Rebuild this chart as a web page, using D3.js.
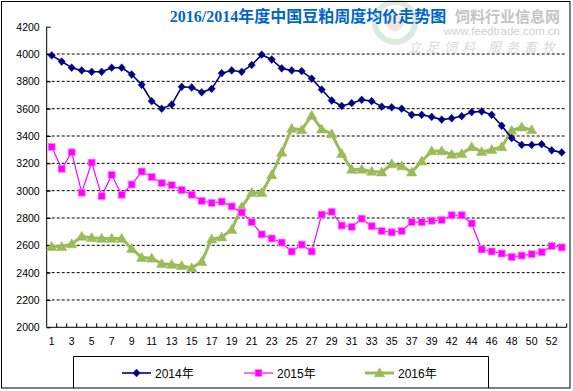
<!DOCTYPE html>
<html><head><meta charset="utf-8">
<script src="https://cdn.jsdelivr.net/npm/d3@7"></script>
<style>
body{margin:0;background:#fff;}
svg{display:block;}
</style></head><body>
<svg id="chart" width="573" height="391"></svg>
<script>
// ---- data ----
const weeks = [1,2,3,4,5,6,7,8,9,10,11,12,13,14,15,16,17,18,19,20,21,22,23,24,25,26,27,28,29,30,31,32,33,34,35,36,37,38,39,40,42,43,44,45,46,47,48,49,50,51,52,53];
const s2014 = [3990,3945,3900,3880,3870,3870,3900,3900,3850,3775,3655,3600,3630,3760,3755,3720,3745,3860,3880,3870,3920,3995,3960,3895,3880,3875,3820,3740,3660,3620,3640,3665,3655,3615,3610,3600,3555,3555,3540,3520,3530,3545,3575,3580,3555,3475,3385,3335,3335,3340,3295,3280];
const s2015 = [3320,3160,3280,2985,3205,2960,3115,2970,3045,3140,3100,3055,3040,3005,2970,2925,2910,2920,2885,2840,2770,2680,2650,2620,2555,2605,2555,2825,2845,2745,2735,2795,2740,2705,2695,2705,2770,2770,2780,2785,2820,2820,2760,2570,2555,2540,2515,2525,2535,2550,2595,2585];
const s2016 = [2590,2590,2610,2665,2655,2650,2650,2650,2575,2510,2505,2465,2460,2450,2435,2480,2645,2660,2715,2880,2985,2985,3115,3280,3455,3445,3550,3450,3415,3270,3155,3155,3140,3135,3195,3180,3135,3215,3290,3290,3265,3270,3320,3285,3300,3320,3440,3465,3445];
const seriesNames = ["2014年","2015年","2016年"];
const yTicks = [2000,2200,2400,2600,2800,3000,3200,3400,3600,3800,4000,4200];
const gridTicks = [2200,2400,2600,2800,3000,3200,3400,3600,3800,4000];
const xLabelWeeks = weeks.filter((d,i)=> i%2===0);
const title = "2016/2014年度中国豆粕周度均价走势图";

// ---- layout ----
const svg = d3.select("#chart");
const L = 46.7, R = 566.7, T = 26.7, B = 327.3;
const x = d3.scaleBand().domain(weeks).range([L, R]).padding(0);
const y = d3.scaleLinear().domain([2000, 4200]).range([B, T]);
const cx = d => x(d) + x.bandwidth()/2;
const fontTxt = "'Liberation Sans','Noto Sans CJK SC',sans-serif";

svg.append("rect").attr("width",573).attr("height",391).attr("fill","#fff");

// ---- watermark ----
const wm = svg.append("g");
wm.append("circle").attr("cx",395).attr("cy",22).attr("r",20)
  .attr("fill","none").attr("stroke","#dcebdc").attr("stroke-width",6);
wm.append("circle").attr("cx",395).attr("cy",22).attr("r",9)
  .attr("fill","#f3e6d6");
wm.append("text").attr("x",560).attr("y",22).attr("text-anchor","end")
  .attr("font-family","'Noto Sans CJK SC',sans-serif").attr("font-weight","bold")
  .attr("font-size",15).attr("fill","#c4c4c4").text("饲料行业信息网");
wm.append("text").attr("x",560).attr("y",35).attr("text-anchor","end")
  .attr("font-family","'Liberation Sans',sans-serif").attr("font-size",11.5)
  .attr("fill","#d0d0d0").text("www.feedtrade.com.cn");
wm.append("text").attr("x",560).attr("y",52).attr("text-anchor","end")
  .attr("font-family","'Noto Sans CJK SC',sans-serif").attr("font-style","italic")
  .attr("font-size",13).attr("fill","#dadada").attr("letter-spacing",5)
  .text("立足饲料  服务畜牧");

// ---- title ----
svg.append("text").attr("x",308).attr("y",22).attr("text-anchor","middle")
  .attr("font-family","'Liberation Serif','Noto Sans CJK SC',serif")
  .attr("font-weight","bold").attr("font-size",16).attr("fill","#0066CC")
  .text(title);

// ---- gridlines ----
svg.append("g").selectAll("line").data(gridTicks).join("line")
  .attr("x1",L).attr("x2",R).attr("y1",d=>y(d)).attr("y2",d=>y(d))
  .attr("stroke","#000").attr("stroke-width",1).attr("stroke-dasharray","3,2");

// ---- axes ----
const yAxis = svg.append("g").attr("transform",`translate(${L},0)`)
  .call(d3.axisLeft(y).tickValues(yTicks).tickSize(-4).tickPadding(7).tickFormat(d3.format("d")));
yAxis.select(".domain").attr("stroke","#000").attr("d",`M0,${T}V${B}`);
yAxis.selectAll("text").attr("font-family",fontTxt).attr("font-size",10.5).attr("fill","#000");

const xAxis = svg.append("g").attr("transform",`translate(0,${B})`)
  .call(d3.axisBottom(x).tickValues(xLabelWeeks).tickSize(0).tickPadding(10)
    .tickFormat((d,i)=> String(xLabelWeeks[i])));
xAxis.select(".domain").attr("stroke","#000").attr("d",`M${L},0H${R}`);
xAxis.selectAll("text").attr("font-family",fontTxt).attr("font-size",10.5).attr("fill","#000");
// boundary ticks (inside)
svg.append("g").selectAll("line").data(weeks).join("line")
  .attr("x1",d=>x(d)+x.bandwidth()).attr("x2",d=>x(d)+x.bandwidth())
  .attr("y1",B).attr("y2",B-4).attr("stroke","#000");

// ---- series ----
const diamond = "M0,-3.9L3.6,0L0,3.9L-3.6,0Z";
const square = "M-3.5,-3.5H3.5V3.5H-3.5Z";
const tri = "M0,-5.2L5.2,3.8H-5.2Z";
const series = [
  {name:seriesNames[2], data:s2016, color:"#9BBB59", width:3, sym:tri, stroke:"#9BBB59", sw:0.5},
  {name:seriesNames[1], data:s2015, color:"#FF00FF", width:1.2, sym:square, stroke:"#FF7FFF", sw:0.8},
  {name:seriesNames[0], data:s2014, color:"#000080", width:1.6, sym:diamond, stroke:"#000080", sw:0.5}
];
const line = d3.line().x(d=>cx(d[0])).y(d=>y(d[1]));
series.forEach(s=>{
  const pts = s.data.map((v,i)=>[weeks[i],v]);
  const g = svg.append("g");
  g.append("path").datum(pts).attr("d",line).attr("fill","none")
    .attr("stroke",s.color).attr("stroke-width",s.width).attr("stroke-linejoin","round");
  g.selectAll("path.m").data(pts).join("path").attr("class","m")
    .attr("d",s.sym).attr("transform",d=>`translate(${cx(d[0])},${y(d[1])})`)
    .attr("fill",s.color).attr("stroke",s.stroke).attr("stroke-width",s.sw);
});

// ---- legend ----
const lg = svg.append("g");
lg.append("path").attr("d","M73.5,388V356.5H488.5V388").attr("fill","none").attr("stroke","#000");
const legItems = [
  {name:seriesNames[0], color:"#000080", width:1.6, sym:diamond, x:122, stroke:"#000080", sw:0.5},
  {name:seriesNames[1], color:"#FF00FF", width:1.2, sym:square, x:244, stroke:"#FF7FFF", sw:0.8},
  {name:seriesNames[2], color:"#9BBB59", width:3, sym:tri, x:365, stroke:"#9BBB59", sw:0.5}
];
legItems.forEach(it=>{
  lg.append("line").attr("x1",it.x).attr("x2",it.x+29).attr("y1",373).attr("y2",373)
    .attr("stroke",it.color).attr("stroke-width",it.width);
  lg.append("path").attr("d",it.sym).attr("transform",`translate(${it.x+14.5},373)`)
    .attr("fill",it.color).attr("stroke",it.stroke).attr("stroke-width",it.sw);
  lg.append("text").attr("x",it.x+33).attr("y",377.5).attr("font-family",fontTxt)
    .attr("font-size",12).attr("fill","#000").text(it.name);
});

// ---- outer border ----
svg.append("rect").attr("x",1.5).attr("y",1.5).attr("width",568.5).attr("height",386.5)
  .attr("fill","none").attr("stroke","#000");
</script>
</body></html>
